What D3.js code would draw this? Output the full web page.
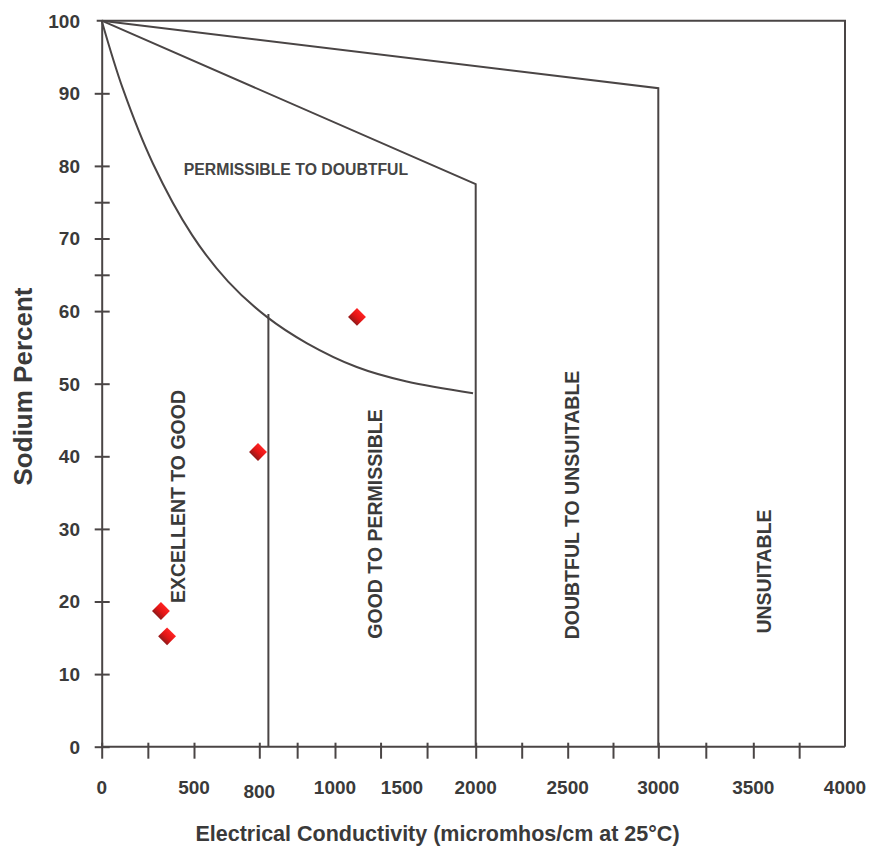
<!DOCTYPE html>
<html>
<head>
<meta charset="utf-8">
<script src="https://cdn.jsdelivr.net/npm/d3@7"></script>
<style>
  body { margin: 0; background: #fff; }
  svg { font-family: "Liberation Sans", Arial, sans-serif; }
</style>
</head>
<body>
<div id="chart"></div>
<script>
// electrical conductivity axis (non uniform in the original diagram)
const ecKnots = [0, 500, 800, 1000, 1500, 2000, 2500, 3000, 3500, 4000];
const ecLabels = [0, 500, 800, 1000, 1500, 2000, 2500, 3000, 3500, 4000];
const ecTicks = [0, 250, 500, 800, 900, 1000, 1340, 1670, 2000, 2250, 2500, 2750, 3000, 3250, 3500, 3750];
const naLabels = [0, 10, 20, 30, 40, 50, 60, 70, 80, 90, 100];
const naTicks = [0, 10, 20, 30, 40, 50, 60, 65, 70, 75, 80, 90, 100];

// class boundaries [EC, Na%]
const boundary3000 = [[0, 100], [3000, 90.7], [3000, 0]];
const boundary2000 = [[0, 100], [2000, 77.5], [2000, 0]];
const boundary800 = [[824, 59.6], [824, 0]];
const curveLine = [[0, 100], [115, 90.6], [278, 80.3], [489, 70.5], [656, 64.1], [820, 59.2],
                   [925, 55.6], [1162, 52.3], [1532, 50.3], [1982, 48.7]];

// samples
const sampleEC = [1164, 794, 321, 354];
const sampleNa = [59.2, 40.6, 18.7, 15.2];

const W = 873, H = 847;
const ink = "#4a4545", txt = "#3a3a3a";

const svg = d3.select("#chart").append("svg")
  .attr("width", W).attr("height", H);

const x = d3.scaleLinear()
  .domain(ecKnots)
  .range([101.7, 194, 259.3, 335, 402, 475.7, 567.7, 658.3, 753.3, 845]);
const y = d3.scaleLinear().domain([0, 100]).range([746.7, 20.7]);

// gradient for the diamonds
const grad = svg.append("defs").append("linearGradient")
  .attr("id", "red").attr("x1", 0).attr("y1", 0).attr("x2", 0).attr("y2", 1);
grad.append("stop").attr("offset", "0%").attr("stop-color", "#ff2222");
grad.append("stop").attr("offset", "55%").attr("stop-color", "#e01515");
grad.append("stop").attr("offset", "100%").attr("stop-color", "#901a1a");

// frame: top and right
svg.append("path")
  .attr("d", d3.line()([[x(0) - 5, y(100)], [x(4000), y(100)], [x(4000), y(0)]]))
  .attr("fill", "none").attr("stroke", ink).attr("stroke-width", 2);

// x axis ticks
const xAx = svg.append("g")
  .attr("transform", `translate(0,${y(0)})`)
  .call(d3.axisBottom(x).tickValues(ecTicks).tickFormat("").tickSize(12).tickSizeOuter(0));
xAx.select(".domain").attr("d", `M${x(0)},0H${x(4000)}`).attr("stroke", ink).attr("stroke-width", 2);
xAx.selectAll(".tick line").attr("y1", -4).attr("stroke", ink).attr("stroke-width", 2);

// x labels
svg.append("g").selectAll("text")
  .data(ecLabels)
  .join("text")
  .attr("x", d => x(d))
  .attr("y", d => d === 800 ? 798 : 794)
  .attr("text-anchor", "middle")
  .attr("font-size", 19).attr("font-weight", "bold").attr("fill", txt)
  .text(d => d);

// y axis
const yAx = svg.append("g")
  .attr("transform", `translate(${x(0)},0)`)
  .call(d3.axisLeft(y).tickValues(naTicks).tickFormat("").tickSize(7).tickSizeOuter(0));
yAx.select(".domain").attr("stroke", ink).attr("stroke-width", 2);
yAx.selectAll(".tick line").attr("x2", 8).attr("x1", -7).attr("stroke", ink).attr("stroke-width", 2);
yAx.selectAll(".tick").filter(d => d === 100).remove();

svg.append("g").selectAll("text")
  .data(naLabels)
  .join("text")
  .attr("x", 80)
  .attr("y", d => y(d))
  .attr("dy", "0.36em")
  .attr("text-anchor", "end")
  .attr("font-size", 19).attr("font-weight", "bold").attr("fill", txt)
  .text(d => d);

// boundaries
const line = d3.line().x(d => x(d[0])).y(d => y(d[1]));
[boundary3000, boundary2000, boundary800].forEach(b => {
  svg.append("path").attr("d", line(b))
    .attr("fill", "none").attr("stroke", ink).attr("stroke-width", 2);
});
svg.append("path").attr("d", line.curve(d3.curveCatmullRom)(curveLine))
  .attr("fill", "none").attr("stroke", ink).attr("stroke-width", 2);

// class labels
svg.append("text")
  .attr("x", 296).attr("y", 175)
  .attr("text-anchor", "middle")
  .attr("font-size", 15.8).attr("font-weight", "bold").attr("fill", "#444")
  .text("PERMISSIBLE TO DOUBTFUL");

const vLabels = [
  {t: "EXCELLENT TO GOOD", cx: 177.5, cy: 496.5},
  {t: "GOOD TO PERMISSIBLE", cx: 375, cy: 524},
  {t: "DOUBTFUL TO UNSUITABLE", cx: 572, cy: 505},
  {t: "UNSUITABLE", cx: 763.5, cy: 571.5}
];
svg.append("g").selectAll("text")
  .data(vLabels)
  .join("text")
  .attr("transform", d => `translate(${d.cx + 7},${d.cy}) rotate(-90)`)
  .attr("text-anchor", "middle")
  .attr("font-size", 19.5).attr("font-weight", "bold").attr("fill", txt)
  .text(d => d.t);

// samples
svg.append("g").selectAll("path")
  .data(sampleEC.map((e, i) => [e, sampleNa[i]]))
  .join("path")
  .attr("d", d3.symbol(d3.symbolSquare, 160))
  .attr("transform", d => `translate(${x(d[0])},${y(d[1])}) rotate(45)`)
  .attr("fill", "url(#red)");

// axis titles
svg.append("text")
  .attr("x", 437.5).attr("y", 841)
  .attr("text-anchor", "middle")
  .attr("font-size", 21.5).attr("font-weight", "bold").attr("fill", txt)
  .text("Electrical Conductivity (micromhos/cm at 25°C)");

svg.append("text")
  .attr("transform", "translate(32,386.5) rotate(-90)")
  .attr("text-anchor", "middle")
  .attr("font-size", 26).attr("font-weight", "bold").attr("fill", txt)
  .text("Sodium Percent");
</script>
</body>
</html>
